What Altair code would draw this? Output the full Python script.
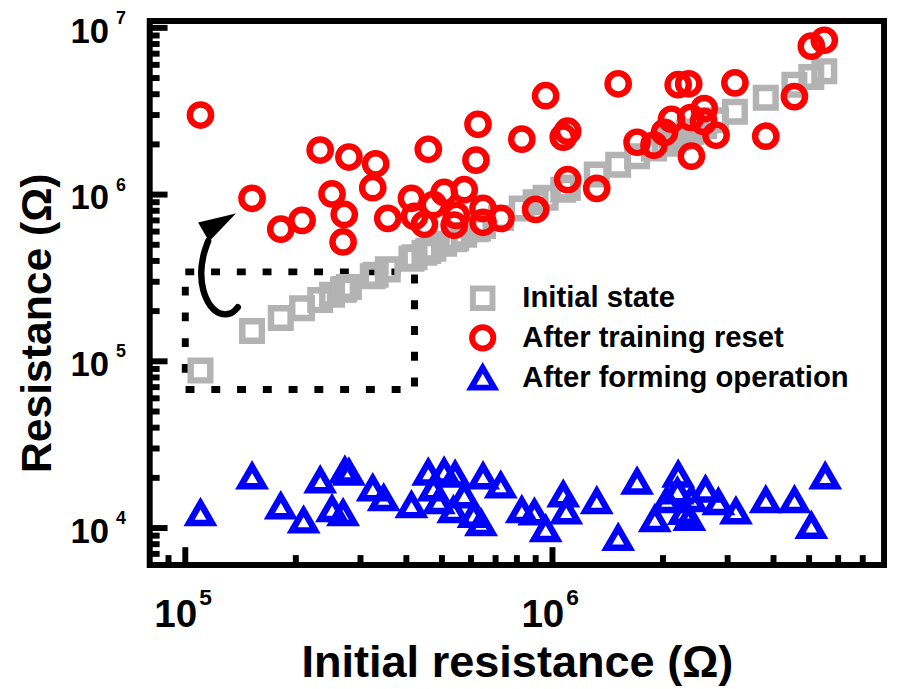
import altair as alt
import pandas as pd

FONT = "Liberation Sans"
W, H = 741, 549

# ---- data -------------------------------------------------------------------
series_names = ["Initial state", "After training reset", "After forming operation"]
series_colors = ["#b3b3b3", "#ff0000", "#0000ff"]
series_shapes = ["square", "circle", "triangle-up"]
series_sizes = [390, 530, 680]

# initial resistance of each device (x of gray squares and red circles)
dev_x = [1.10e5, 1.52e5, 1.82e5, 2.08e5, 2.33e5, 2.51e5, 2.69e5, 2.71e5, 2.79e5, 3.24e5,
         3.30e5, 3.56e5, 4.13e5, 4.21e5, 4.48e5, 4.59e5, 4.74e5, 5.07e5, 5.40e5, 5.47e5,
         5.75e5, 6.19e5, 6.27e5, 6.47e5, 6.47e5, 7.24e5, 8.25e5, 9.00e5, 9.58e5, 1.07e6,
         1.10e6, 1.10e6, 1.32e6, 1.51e6, 1.70e6, 1.89e6, 2.02e6, 2.11e6, 2.20e6, 2.35e6,
         2.38e6, 2.39e6, 2.58e6, 2.59e6, 2.79e6, 3.14e6, 3.81e6, 4.56e6, 5.07e6, 5.50e6]
initial_y = [8.8e4, 1.52e5, 1.82e5, 2.08e5, 2.33e5, 2.51e5, 2.69e5, 2.71e5, 2.79e5, 3.24e5,
             3.30e5, 3.56e5, 4.13e5, 4.21e5, 4.48e5, 4.59e5, 4.74e5, 5.07e5, 5.40e5, 5.47e5,
             5.75e5, 6.19e5, 6.27e5, 6.47e5, 6.47e5, 7.24e5, 8.25e5, 9.00e5, 9.58e5, 1.07e6,
             1.10e6, 1.10e6, 1.32e6, 1.51e6, 1.70e6, 1.89e6, 2.02e6, 2.11e6, 2.20e6, 2.35e6,
             2.38e6, 2.39e6, 2.58e6, 2.59e6, 2.79e6, 3.14e6, 3.81e6, 4.56e6, 5.07e6, 5.50e6]
reset_y = [3.00e6, 9.5e5, 6.2e5, 7.0e5, 1.85e6, 1.01e6, 5.2e5, 7.6e5, 1.68e6, 1.10e6,
           1.53e6, 7.2e5, 9.5e5, 7.4e5, 6.64e5, 1.87e6, 8.7e5, 1.03e6, 6.55e5, 7.5e5,
           1.07e6, 1.61e6, 2.64e6, 8.26e5, 6.82e5, 7.2e5, 2.15e6, 8.15e5, 3.92e6, 2.21e6,
           2.40e6, 1.23e6, 1.09e6, 4.62e6, 2.06e6, 1.98e6, 2.36e6, 2.83e6, 4.56e6, 4.62e6,
           2.90e6, 1.70e6, 2.75e6, 3.28e6, 2.27e6, 4.68e6, 2.24e6, 3.87e6, 7.77e6, 8.43e6]

forming_x = [1.10e5, 1.52e5, 1.82e5, 2.10e5, 2.33e5, 2.51e5, 2.69e5, 2.72e5, 2.79e5, 3.24e5,
             3.47e5, 4.13e5, 4.59e5, 4.74e5, 4.90e5, 5.07e5, 5.37e5, 5.43e5, 5.75e5, 6.10e5,
             6.39e5, 6.47e5, 7.23e5, 8.25e5, 8.93e5, 9.58e5, 1.07e6, 1.09e6, 1.32e6, 1.51e6,
             1.70e6, 1.90e6, 2.05e6, 2.19e6, 2.20e6, 2.28e6, 2.36e6, 2.39e6, 2.61e6, 2.83e6,
             3.16e6, 3.81e6, 4.56e6, 5.07e6, 5.53e6]
forming_y = [1.23e4, 2.04e4, 1.35e4, 1.11e4, 1.93e4, 1.30e4, 1.23e4, 2.21e4, 2.15e4, 1.73e4,
             1.51e4, 1.37e4, 2.15e4, 1.73e4, 1.45e4, 2.18e4, 1.28e4, 2.09e4, 1.57e4, 1.20e4,
             1.07e4, 2.04e4, 1.80e4, 1.28e4, 1.24e4, 9.86e3, 1.59e4, 1.26e4, 1.45e4, 8.73e3,
             1.90e4, 1.13e4, 1.47e4, 1.66e4, 2.09e4, 1.25e4, 1.15e4, 1.49e4, 1.70e4, 1.43e4,
             1.26e4, 1.47e4, 1.47e4, 1.03e4, 2.04e4]

# axis ticks and labels
x_major = [1e5, 1e6]
x_minor = [9e4, 2e5, 3e5, 4e5, 5e5, 6e5, 7e5, 8e5, 9e5, 2e6, 3e6, 4e6, 5e6, 6e6, 7e6]
x_exp = ["5", "6"]
y_major = [1e4, 1e5, 1e6, 1e7]
y_minor = [7e3, 8e3, 9e3, 2e4, 3e4, 4e4, 5e4, 6e4, 7e4, 8e4, 9e4,
           2e5, 3e5, 4e5, 5e5, 6e5, 7e5, 8e5, 9e5, 2e6, 3e6, 4e6, 5e6, 6e6, 7e6, 8e6, 9e6]
y_exp = ["4", "5", "6", "7"]

# dotted box and curved arrow (data coordinates)
box_x = [1.0e5, 4.21e5]
box_y = [6.78e4, 3.44e5]
arrow_x = [1.39e5, 1.33e5, 1.24e5, 1.17e5, 1.12e5, 1.105e5, 1.12e5, 1.154e5]
arrow_y = [2.11e5, 1.94e5, 1.94e5, 2.16e5, 2.66e5, 3.40e5, 4.29e5, 5.26e5]
head_x = [1.241e5]
head_y = [6.78e5]

x_title = "Initial resistance (\u03a9)"
y_title = "Resistance (\u03a9)"

# ---- tables ----------------------------------------------------------------
rows = []
for x, y in zip(dev_x, initial_y):
    rows.append({"x": x, "y": y, "series": series_names[0]})
for x, y in zip(dev_x, reset_y):
    rows.append({"x": x, "y": y, "series": series_names[1]})
for x, y in zip(forming_x, forming_y):
    rows.append({"x": x, "y": y, "series": series_names[2]})
df = pd.DataFrame(rows)
df["idx"] = range(len(df))

xscale = alt.Scale(type="log", domain=[8e4, 8e6], nice=False)
yscale = alt.Scale(type="log", domain=[6e3, 1.1e7], nice=False)

legend = alt.Legend(
    title=None, orient="none", legendX=321, legendY=265, padding=0,
    labelFont=FONT, labelFontSize=29.5, labelFontWeight="bold", labelColor="black",
    labelOffset=25, rowPadding=-5, symbolSize=360, symbolStrokeWidth=6, labelLimit=0,
)

points = alt.Chart(df).mark_point(filled=False, opacity=1, strokeWidth=6.5).encode(
    x=alt.X("x:Q", scale=xscale, axis=None),
    y=alt.Y("y:Q", scale=yscale, axis=None),
    color=alt.Color("series:N", scale=alt.Scale(domain=series_names, range=series_colors), legend=legend),
    shape=alt.Shape("series:N", scale=alt.Scale(domain=series_names, range=series_shapes), legend=legend),
    size=alt.Size("series:N", scale=alt.Scale(domain=series_names, range=series_sizes), legend=None),
    order=alt.Order("idx:Q"),
)

box = alt.Chart(pd.DataFrame({"x": [box_x[0]], "x2": [box_x[1]], "y": [box_y[0]], "y2": [box_y[1]]})).mark_rect(
    fill="transparent", stroke="black", strokeWidth=7, strokeDash=[9, 17]
).encode(
    x=alt.X("x:Q", scale=xscale, axis=None), x2="x2:Q",
    y=alt.Y("y:Q", scale=yscale, axis=None), y2="y2:Q",
)

arrow = alt.Chart(pd.DataFrame({"x": arrow_x, "y": arrow_y, "o": list(range(len(arrow_x)))})).mark_line(
    color="black", strokeWidth=6.5, interpolate="catmull-rom", strokeCap="round"
).encode(
    x=alt.X("x:Q", scale=xscale, axis=None),
    y=alt.Y("y:Q", scale=yscale, axis=None),
    order="o:Q",
)

head = alt.Chart(pd.DataFrame({"x": head_x, "y": head_y})).mark_point(
    shape="M0,-1L0.59,1L-0.59,1Z", size=1414, angle=60, filled=True, color="black", opacity=1
).encode(
    x=alt.X("x:Q", scale=xscale, axis=None),
    y=alt.Y("y:Q", scale=yscale, axis=None),
)

# ticks (drawn inward from the frame)
def xticks(vals, length):
    return alt.Chart(pd.DataFrame({"v": vals})).mark_rule(color="black", strokeWidth=6).encode(
        x=alt.X("v:Q", scale=xscale, axis=None), y=alt.value(H), y2=alt.value(H - length)
    )

def yticks(vals, length):
    return alt.Chart(pd.DataFrame({"v": vals})).mark_rule(color="black", strokeWidth=6).encode(
        y=alt.Y("v:Q", scale=yscale, axis=None), x=alt.value(0), x2=alt.value(length)
    )

xl = pd.DataFrame({"v": x_major, "base": ["10"] * len(x_major), "exp": x_exp})
yl = pd.DataFrame({"v": y_major, "base": ["10"] * len(y_major), "exp": y_exp})

x_base = alt.Chart(xl).mark_text(font=FONT, fontWeight="bold", fontSize=39, align="right",
                                 baseline="alphabetic", dx=12, color="black").encode(
    x=alt.X("v:Q", scale=xscale, axis=None), y=alt.value(612), text="base:N")
x_sup = alt.Chart(xl).mark_text(font=FONT, fontWeight="bold", fontSize=23, align="left",
                                baseline="alphabetic", dx=14, color="black").encode(
    x=alt.X("v:Q", scale=xscale, axis=None), y=alt.value(589), text="exp:N")
y_base = alt.Chart(yl).mark_text(font=FONT, fontWeight="bold", fontSize=35, align="right",
                                 baseline="alphabetic", dy=15, color="black").encode(
    y=alt.Y("v:Q", scale=yscale, axis=None), x=alt.value(-41), text="base:N")
y_sup = alt.Chart(yl).mark_text(font=FONT, fontWeight="bold", fontSize=18, align="left",
                                baseline="alphabetic", dy=-4, color="black").encode(
    y=alt.Y("v:Q", scale=yscale, axis=None), x=alt.value(-34), text="exp:N")

xt = alt.Chart(pd.DataFrame({"t": [x_title]})).mark_text(
    font=FONT, fontWeight="bold", fontSize=45.5, align="center", baseline="alphabetic", color="black"
).encode(x=alt.value(371), y=alt.value(662), text="t:N")
yt = alt.Chart(pd.DataFrame({"t": [y_title]})).mark_text(
    font=FONT, fontWeight="bold", fontSize=43, align="center", baseline="alphabetic",
    angle=270, color="black"
).encode(x=alt.value(-100), y=alt.value(305), text="t:N")

chart = alt.layer(
    box, arrow, head, points,
    xticks(x_major, 18), xticks(x_minor, 10), yticks(y_major, 18), yticks(y_minor, 10),
    x_base, x_sup, y_base, y_sup, xt, yt,
).properties(
    width=W, height=H,
    padding={"left": 143, "top": 10, "right": 5, "bottom": 120},
    autosize=alt.AutoSizeParams(type="none"),
    background="white",
).configure_view(stroke="black", strokeWidth=6).configure_legend(
    labelFont=FONT, labelFontSize=29.5, labelFontWeight="bold", labelLimit=0
)

chart.save("out.html", embed_options={"renderer": "svg", "actions": False})
